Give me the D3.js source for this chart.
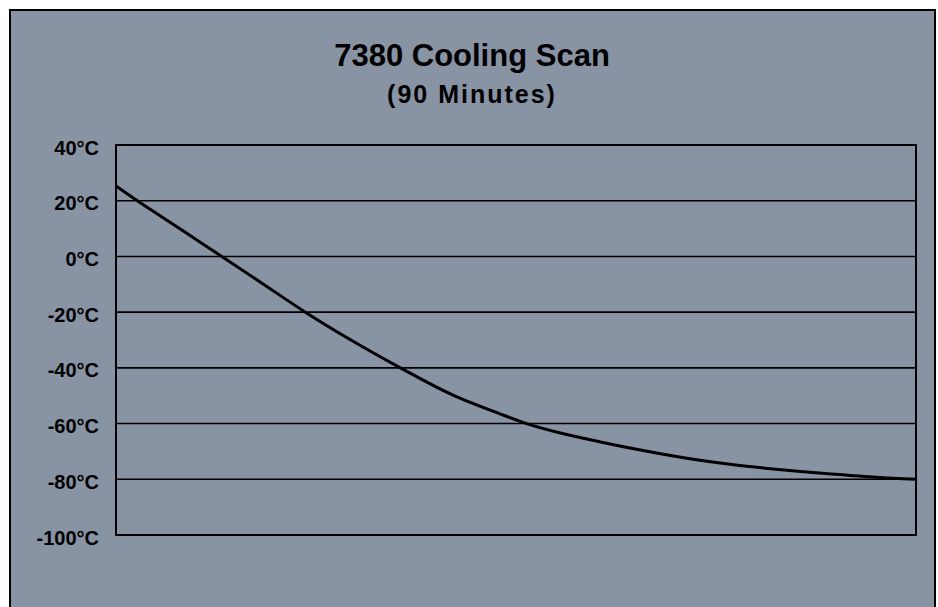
<!DOCTYPE html>
<html>
<head>
<meta charset="utf-8">
<script src="https://cdn.jsdelivr.net/npm/d3@7"></script>
<style>
  html, body { margin: 0; padding: 0; background: #fff; }
  svg { display: block; }
</style>
</head>
<body>
<div id="chart"></div>
<script>
// data
const minutes = [0, 2.4, 5, 8, 11.9, 16, 21.3, 26, 32, 37.8, 43.2, 46.2, 50, 54.5, 59, 65.7, 69.5, 73, 77, 80.5, 82.6, 85.5, 90]
const temps   = [25.3, 20, 14.5, 8.2, 0, -8.7, -20, -29.2, -40, -49.6, -56.5, -60, -63.4, -66.6, -69.5, -73.2, -74.8, -76.0, -77.2, -78.1, -78.6, -79.3, -80]
const yTicks  = [40, 20, 0, -20, -40, -60, -80, -100]
const title = '7380 Cooling Scan'
const subtitle = '(90 Minutes)'

const width = 938, height = 607
const plot = { left: 116, right: 916, top: 145, bottom: 535 }
const bg = '#8893a4'

const svg = d3.select('#chart')
    .append('svg')
    .attr('width', width)
    .attr('height', height)

// outer frame
svg.append('rect')
    .attr('x', 10).attr('y', 10)
    .attr('width', 925).attr('height', 620)
    .attr('fill', bg)
    .attr('stroke', '#000')
    .attr('stroke-width', 2)

const x = d3.scaleLinear().domain([0, 90]).range([plot.left, plot.right])
const y = d3.scaleLinear().domain([-100, 40]).range([plot.bottom, plot.top])

// gridlines
svg.append('g')
    .selectAll('line')
    .data(yTicks)
    .enter()
    .append('line')
    .attr('x1', plot.left).attr('x2', plot.right)
    .attr('y1', d => y(d)).attr('y2', d => y(d))
    .attr('stroke', '#000')
    .attr('stroke-width', 1.6)

// plot border
svg.append('rect')
    .attr('x', plot.left).attr('y', plot.top)
    .attr('width', plot.right - plot.left)
    .attr('height', plot.bottom - plot.top)
    .attr('fill', 'none')
    .attr('stroke', '#000')
    .attr('stroke-width', 2)

// y axis labels
const yAxis = d3.axisLeft(y).tickValues(yTicks).tickSize(0).tickPadding(17)
    .tickFormat(d => d + '°C')
const ag = svg.append('g')
    .attr('transform', `translate(${plot.left},0)`)
    .call(yAxis)
ag.select('.domain').remove()
ag.selectAll('text')
    .attr('dy', '0.45em')
    .style('font-family', 'Arial, "Liberation Sans", sans-serif')
    .style('font-weight', 'bold')
    .style('font-size', '20px')
    .attr('fill', '#000')

// the cooling curve
const line = d3.line()
    .x(d => x(d[0]))
    .y(d => y(d[1]))
    .curve(d3.curveMonotoneX)
svg.append('path')
    .datum(minutes.map((m, i) => [m, temps[i]]))
    .attr('d', line)
    .attr('fill', 'none')
    .attr('stroke', '#000')
    .attr('stroke-width', 3)

// titles
svg.append('text')
    .attr('x', 472).attr('y', 66)
    .attr('text-anchor', 'middle')
    .style('font-family', 'Arial, "Liberation Sans", sans-serif')
    .style('font-weight', 'bold')
    .style('font-size', '31px')
    .text(title)
svg.append('text')
    .attr('x', 472).attr('y', 103)
    .attr('text-anchor', 'middle')
    .style('font-family', 'Arial, "Liberation Sans", sans-serif')
    .style('font-weight', 'bold')
    .style('font-size', '25px')
    .style('letter-spacing', '2px')
    .text(subtitle)
</script>
</body>
</html>
